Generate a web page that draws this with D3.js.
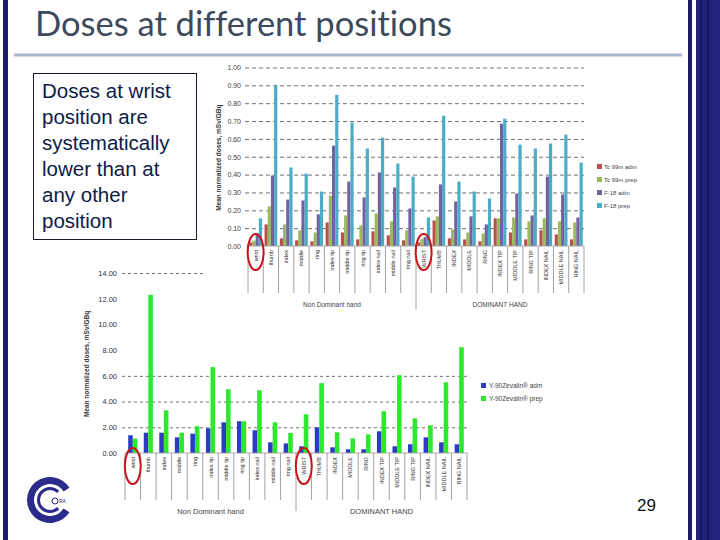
<!DOCTYPE html>
<html>
<head>
<meta charset="utf-8">
<script src="https://cdn.jsdelivr.net/npm/d3@7"></script>
<style>
  body { margin: 0; background: #fff; }
  svg { display: block; }
  text { font-family: "Liberation Sans", Arial, sans-serif; }
</style>
</head>
<body>
<svg id="slide" width="720" height="540"></svg>
<script>
// categories (same for both charts)
const cats = ["wrist", "thumb", "index", "middle", "ring", "index tip", "middle tip", "ring tip",
  "index nail", "middle nail", "ring nail", "WRIST", "THUMB", "INDEX", "MIDDLE", "RING",
  "INDEX TIP", "MIDDLE TIP", "RING TIP", "INDEX NAIL", "MIDDLE NAIL", "RING NAIL"];
const groups = ["Non Dominant hand", "DOMINANT HAND"];

// top chart: Tc-99m / F-18, mSv/GBq
const tcAdm = [0.02, 0.121, 0.043, 0.032, 0.026, 0.132, 0.076, 0.037, 0.082, 0.06, 0.032,
  0.02, 0.143, 0.043, 0.037, 0.026, 0.155, 0.076, 0.037, 0.088, 0.065, 0.037];
const tcPrep = [0.03, 0.222, 0.121, 0.088, 0.076, 0.283, 0.171, 0.115, 0.182, 0.138, 0.088,
  0.04, 0.166, 0.093, 0.076, 0.071, 0.155, 0.16, 0.138, 0.155, 0.138, 0.132];
const f18Adm = [0.07, 0.395, 0.26, 0.255, 0.177, 0.562, 0.361, 0.272, 0.412, 0.328, 0.21,
  0.05, 0.345, 0.25, 0.166, 0.121, 0.685, 0.294, 0.171, 0.389, 0.289, 0.16];
const f18Prep = [0.155, 0.903, 0.44, 0.406, 0.305, 0.847, 0.691, 0.546, 0.607, 0.462, 0.389,
  0.16, 0.73, 0.361, 0.305, 0.266, 0.713, 0.568, 0.546, 0.574, 0.624, 0.467];
const topKeys = ["Tc 99m adm", "Tc 99m prep", "F-18 adm", "F-18 prep"];
const topTicks = [0, 0.1, 0.2, 0.3, 0.4, 0.5, 0.6, 0.7, 0.8, 0.9, 1.0];

// bottom chart: Y-90 Zevalin
const yAdm = [1.38, 1.58, 1.58, 1.22, 1.5, 1.92, 2.39, 2.47, 1.77, 0.83, 0.75,
  0.52, 2.0, 0.44, 0.29, 0.29, 1.69, 0.52, 0.68, 1.22, 0.83, 0.68];
const yPrep = [1.12, 12.3, 3.32, 1.58, 2.08, 6.68, 4.96, 2.47, 4.88, 2.39, 1.56,
  3.01, 5.43, 1.61, 1.14, 1.45, 3.25, 6.05, 2.7, 2.16, 5.5, 8.23];
const botKeys = ["Y-90Zevalin® adm", "Y-90Zevalin® prep"];
const botTicks = [0, 2, 4, 6, 8, 10, 12, 14];
const botGrid = [2, 4, 6, 14];

const svg = d3.select("#slide");

// ---- slide frame ----
svg.append("rect").attr("x", 3).attr("y", 0).attr("width", 5).attr("height", 540).attr("fill", "#1c1c6c");
svg.append("rect").attr("x", 688).attr("y", 0).attr("width", 4).attr("height", 540).attr("fill", "#1c1c6c");
svg.append("rect").attr("x", 696).attr("y", 0).attr("width", 24).attr("height", 540).attr("fill", "#22227a");
svg.append("rect").attr("x", 700).attr("y", 0).attr("width", 2).attr("height", 540).attr("fill", "#16165e");
svg.append("rect").attr("x", 707).attr("y", 0).attr("width", 1.5).attr("height", 540).attr("fill", "#16165e");

svg.append("text")
  .attr("x", 35).attr("y", 36)
  .style("font-family", "Lato, 'Open Sans', sans-serif")
  .style("font-size", "34.5px")
  .style("font-variant-ligatures", "none")
  .attr("fill", "#3c4a5c")
  .text("Doses at different positions");

svg.append("line")
  .attr("x1", 14).attr("x2", 682).attr("y1", 55).attr("y2", 55)
  .attr("stroke", "#a9b9cd").attr("stroke-width", 3);

// ---- bottom chart (drawn first, top chart image sits over it) ----
const bx = d3.scaleBand().domain(cats).range([125, 467]);
const bx1 = d3.scaleBand().domain(botKeys).range([0, bx.bandwidth()]).paddingOuter(0.7);
const by = d3.scaleLinear().domain([0, 14]).range([453, 273]);
const botColor = d3.scaleOrdinal().domain(botKeys).range(["#2b3bc6", "#2ee82e"]);

const bottomChart = svg.append("g").attr("class", "bottom-chart");

bottomChart.append("g")
  .attr("transform", `translate(${bx.range()[0] - 3}, 0)`)
  .call(d3.axisLeft(by).tickValues(botGrid).tickSize(-(bx.range()[1] - bx.range()[0] + 3)).tickFormat(""))
  .call(g => g.select(".domain").remove())
  .call(g => g.selectAll("line").attr("stroke", "#6e6e6e").attr("stroke-dasharray", "3,3"));

bottomChart.append("g")
  .attr("transform", `translate(${bx.range()[0] - 3}, 0)`)
  .call(d3.axisLeft(by).tickValues(botTicks).tickSize(0).tickPadding(5).tickFormat(d3.format(".2f")))
  .call(g => g.select(".domain").remove())
  .call(g => g.selectAll("text").style("font-size", "7.5px").attr("fill", "#333"));

const botRows = cats.map((c, i) => ({ cat: c, vals: [yAdm[i], yPrep[i]] }));
bottomChart.selectAll(".bgrp")
  .data(botRows)
  .join("g")
  .attr("class", "bgrp")
  .attr("transform", d => `translate(${bx(d.cat)}, 0)`)
  .selectAll("rect")
  .data(d => d.vals.map((v, k) => ({ key: botKeys[k], v })))
  .join("rect")
  .attr("x", d => bx1(d.key))
  .attr("width", bx1.bandwidth())
  .attr("y", d => by(d.v))
  .attr("height", d => by(0) - by(d.v))
  .attr("fill", d => botColor(d.key));

// category axis with separators
function categoryAxis(g, x, y0, fontSize, sepLen, midLen, groupY, groupSize) {
  g.append("line")
    .attr("x1", x.range()[0]).attr("x2", x.range()[1])
    .attr("y1", y0).attr("y2", y0)
    .attr("stroke", "#999").attr("stroke-width", 0.8);
  const bounds = d3.range(cats.length + 1);
  g.selectAll(".sep")
    .data(bounds)
    .join("line")
    .attr("class", "sep")
    .attr("x1", i => x.range()[0] + i * x.step())
    .attr("x2", i => x.range()[0] + i * x.step())
    .attr("y1", y0)
    .attr("y2", i => y0 + (i === 11 ? midLen : sepLen))
    .attr("stroke", "#8a8a8a").attr("stroke-width", 0.8);
  g.selectAll(".clab")
    .data(cats)
    .join("text")
    .attr("class", "clab")
    .attr("transform", d => `translate(${x(d) + x.bandwidth() / 2 + 2}, ${y0 + 4}) rotate(-90)`)
    .attr("text-anchor", "end")
    .style("font-size", fontSize + "px")
    .attr("fill", "#333")
    .text(d => d);
  g.selectAll(".glab")
    .data(groups)
    .join("text")
    .attr("class", "glab")
    .attr("x", (d, i) => x.range()[0] + (i * 11 + 5.5) * x.step())
    .attr("y", groupY)
    .attr("text-anchor", "middle")
    .style("font-size", groupSize + "px")
    .attr("fill", "#444")
    .text(d => d);
}

categoryAxis(bottomChart.append("g"), bx, by(0), 5.5, 47, 58, 514, 7.5);

bottomChart.append("text")
  .attr("transform", `translate(89, ${by(7) + 1}) rotate(-90)`)
  .attr("text-anchor", "middle")
  .style("font-size", "6.5px").style("font-weight", "bold")
  .attr("fill", "#333")
  .text("Mean normalized doses, mSv/GBq");

const bLeg = bottomChart.append("g").attr("transform", "translate(481, 383)");
const bLegItems = bLeg.selectAll("g").data(botKeys).join("g")
  .attr("transform", (d, i) => `translate(0, ${i * 13})`);
bLegItems.append("rect").attr("width", 5).attr("height", 5).attr("fill", d => botColor(d));
bLegItems.append("text").attr("x", 8).attr("y", 5).style("font-size", "6.5px").attr("fill", "#444").text(d => d);

// ---- top chart (pasted image with white background) ----
const topChart = svg.append("g").attr("class", "top-chart");
topChart.append("rect").attr("x", 203).attr("y", 60).attr("width", 400).attr("height", 258).attr("fill", "#fff");

const tx = d3.scaleBand().domain(cats).range([248, 584]);
const tx1 = d3.scaleBand().domain(topKeys).range([0, tx.bandwidth()]).paddingOuter(0.4);
const ty = d3.scaleLinear().domain([0, 1]).range([246, 67.5]);
const topColor = d3.scaleOrdinal().domain(topKeys).range(["#b9504c", "#9bbb59", "#7461a0", "#4bacc6"]);

topChart.append("g")
  .attr("transform", `translate(${tx.range()[0] - 3}, 0)`)
  .call(d3.axisLeft(ty).tickValues(topTicks.slice(1)).tickSize(-(tx.range()[1] - tx.range()[0] + 3)).tickFormat(""))
  .call(g => g.select(".domain").remove())
  .call(g => g.selectAll("line").attr("stroke", "#6e6e6e").attr("stroke-dasharray", "4,3"));

topChart.append("g")
  .attr("transform", `translate(${tx.range()[0] - 3}, 0)`)
  .call(d3.axisLeft(ty).tickValues(topTicks).tickSize(0).tickPadding(4).tickFormat(d3.format(".2f")))
  .call(g => g.select(".domain").remove())
  .call(g => g.selectAll("text").style("font-size", "7px").attr("fill", "#444"));

const topRows = cats.map((c, i) => ({ cat: c, vals: [tcAdm[i], tcPrep[i], f18Adm[i], f18Prep[i]] }));
topChart.selectAll(".tgrp")
  .data(topRows)
  .join("g")
  .attr("class", "tgrp")
  .attr("transform", d => `translate(${tx(d.cat)}, 0)`)
  .selectAll("rect")
  .data(d => d.vals.map((v, k) => ({ key: topKeys[k], v })))
  .join("rect")
  .attr("x", d => tx1(d.key))
  .attr("width", tx1.bandwidth())
  .attr("y", d => ty(d.v))
  .attr("height", d => ty(0) - ty(d.v))
  .attr("fill", d => topColor(d.key));

categoryAxis(topChart.append("g"), tx, ty(0), 5.5, 47, 64, 307, 6.5);

topChart.append("text")
  .attr("transform", `translate(221, ${ty(0.5) + 1}) rotate(-90)`)
  .attr("text-anchor", "middle")
  .style("font-size", "6.5px").style("font-weight", "bold")
  .attr("fill", "#333")
  .text("Mean normalized doses, mSv/GBq");

const tLeg = topChart.append("g").attr("transform", "translate(597, 164)");
const tLegItems = tLeg.selectAll("g").data(topKeys).join("g")
  .attr("transform", (d, i) => `translate(0, ${i * 13})`);
tLegItems.append("rect").attr("width", 5).attr("height", 5).attr("fill", d => topColor(d));
tLegItems.append("text").attr("x", 7).attr("y", 5).style("font-size", "6px").attr("fill", "#444").text(d => d);

// red highlight ellipses around the wrist categories
[[bx, by(0), bottomChart, 13], [tx, ty(0), topChart, 6]].forEach(([x, y0, g, off]) => {
  ["wrist", "WRIST"].forEach(c => {
    g.append("ellipse")
      .attr("cx", x(c) + x.bandwidth() / 2)
      .attr("cy", y0 + off)
      .attr("rx", 8).attr("ry", 18)
      .attr("fill", "none").attr("stroke", "#c8141c").attr("stroke-width", 2);
  });
});

// ---- text box ----
svg.append("rect")
  .attr("x", 33.5).attr("y", 73.5).attr("width", 163).attr("height", 166)
  .attr("fill", "#fff").attr("stroke", "#1a1a2e").attr("stroke-width", 1);
const boxLines = ["Doses at wrist", "position are", "systematically", "lower than at", "any other", "position"];
svg.append("g").selectAll("text").data(boxLines).join("text")
  .attr("x", 42).attr("y", (d, i) => 98 + i * 26)
  .style("font-size", "20.5px")
  .attr("fill", "#0c1a48")
  .text(d => d);

// ---- logo & page number ----
// C-shaped logo opening to the right
const logo = svg.append("g").attr("transform", "translate(50, 500)");
logo.append("path")
  .attr("d", d3.arc()({ innerRadius: 16, outerRadius: 23, startAngle: Math.PI * 0.68, endAngle: Math.PI * 2.32 }))
  .attr("fill", "#2b2b8c");
logo.append("path")
  .attr("d", d3.arc()({ innerRadius: 10, outerRadius: 13, startAngle: Math.PI * 0.75, endAngle: Math.PI * 2.25 }))
  .attr("fill", "#2b2b8c");
logo.append("circle").attr("cx", 5).attr("cy", 1).attr("r", 3).attr("fill", "none").attr("stroke", "#2b2b8c").attr("stroke-width", 1);
logo.append("text").attr("x", 9).attr("y", 3).style("font-size", "5px").attr("fill", "#2b2b8c").text("RA");

svg.append("text")
  .attr("x", 637).attr("y", 511)
  .style("font-size", "17px")
  .attr("fill", "#111")
  .text("29");
</script>
</body>
</html>
